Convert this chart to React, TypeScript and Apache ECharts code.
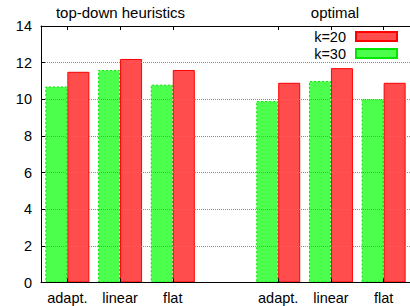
import React, { useEffect, useRef } from "react";
import * as echarts from "echarts";

const categories = ["adapt.", "linear", "flat", "", "adapt.", "linear", "flat"];
const k20 = [11.5, 12.2, 11.6, null, 10.9, 11.7, 10.9];
const k30 = [10.7, 11.6, 10.8, null, 9.9, 11.0, 10.0];
const groupTitles = ["top-down heuristics", "optimal"];
const yMin = 0;
const yMax = 14;
const yStep = 2;

const FONT = "Liberation Sans, Arial, sans-serif";
const RED_FILL = "#ff4d4d";
const RED_LINE = "#ff0000";
const GREEN_FILL = "#4dff4d";
const GREEN_LINE = "#00e600";

export default function App() {
  const ref = useRef<HTMLDivElement>(null);
  useEffect(() => {
    if (!ref.current) return;
    const chart = echarts.init(ref.current, null, { renderer: "svg" });
    const tickFilter = (i: number) => categories[i] !== "";
    chart.setOption({
      animation: false,
      backgroundColor: "#ffffff",
      grid: { left: 41, right: -5.5, top: 26, bottom: 23.5, containLabel: false },
      legend: {
        orient: "vertical",
        right: 12,
        top: 29,
        align: "right",
        icon: "rect",
        itemWidth: 41,
        itemHeight: 9,
        itemGap: 2,
        padding: 0,
        data: ["k=20", "k=30"],
        textStyle: { fontFamily: FONT, fontSize: 14.5, lineHeight: 13, color: "#000", padding: [0, 5, 0, 0] },
      },
      graphic: [
        {
          type: "text",
          x: 120.5,
          y: 12,
          style: { text: groupTitles[0], fontFamily: FONT, fontSize: 15, fill: "#000", textAlign: "center", textVerticalAlign: "middle" },
        },
        {
          type: "text",
          x: 335,
          y: 12,
          style: { text: groupTitles[1], fontFamily: FONT, fontSize: 15, fill: "#000", textAlign: "center", textVerticalAlign: "middle" },
        },
      ],
      xAxis: [
        {
          type: "category",
          data: categories,
          position: "bottom",
          z: 5,
          axisLine: { show: true, lineStyle: { color: "#000", width: 1 } },
          axisTick: { show: true, inside: true, length: 4, alignWithLabel: true, interval: (i: number) => tickFilter(i), lineStyle: { color: "#000" } },
          axisLabel: { fontFamily: FONT, fontSize: 14.5, color: "#000", margin: 8, interval: 0 },
          splitLine: { show: false },
        },
        {
          type: "category",
          data: categories,
          position: "top",
          z: 5,
          axisLine: { show: true, lineStyle: { color: "#000", width: 1 } },
          axisTick: { show: true, inside: true, length: 4, alignWithLabel: true, interval: (i: number) => tickFilter(i), lineStyle: { color: "#000" } },
          axisLabel: { show: false },
          splitLine: { show: false },
        },
      ],
      yAxis: {
        type: "value",
        min: yMin,
        max: yMax,
        interval: yStep,
        z: 5,
        axisLine: { show: true, lineStyle: { color: "#000", width: 1 } },
        axisTick: { show: true, inside: true, length: 4, lineStyle: { color: "#000" } },
        axisLabel: { fontFamily: FONT, fontSize: 14.5, color: "#000", margin: 9 },
        splitLine: {
          show: true,
          lineStyle: { color: "#8a8a8a", width: 1, type: [1, 1] },
        },
      },
      series: [
        {
          name: "k=30",
          type: "bar",
          xAxisIndex: 0,
          data: k30,
          barWidth: 22,
          barGap: "0%",
          itemStyle: { color: GREEN_FILL, borderColor: GREEN_LINE, borderWidth: 1, borderType: [2, 2] },
        },
        {
          name: "k=20",
          type: "bar",
          xAxisIndex: 0,
          data: k20,
          barWidth: 22,
          barGap: "0%",
          itemStyle: { color: RED_FILL, borderColor: RED_LINE, borderWidth: 1 },
        },
      ],
    });
    return () => chart.dispose();
  }, []);
  return <div ref={ref} style={{ width: 410, height: 306, position: "absolute", left: 0, top: 0 }} />;
}
